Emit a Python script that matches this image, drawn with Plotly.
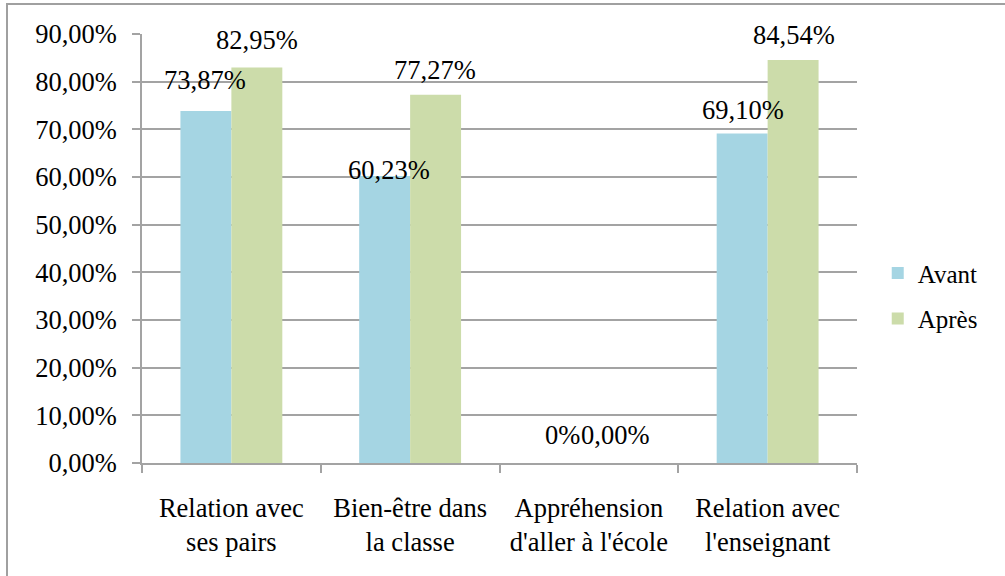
import plotly.graph_objects as go

categories = ["Relation avec<br>ses pairs", "Bien-être dans<br>la classe",
              "Appréhension<br>d'aller à l'école", "Relation avec<br>l'enseignant"]
avant = [73.87, 60.23, 0.0, 69.10]
apres = [82.95, 77.27, 0.0, 84.54]
avant_labels = ["73,87%", "60,23%", "0%", "69,10%"]
apres_labels = ["82,95%", "77,27%", "0,00%", "84,54%"]
y_ticks = [0, 10, 20, 30, 40, 50, 60, 70, 80, 90]
y_ticktext = ["0,00%", "10,00%", "20,00%", "30,00%", "40,00%", "50,00%",
              "60,00%", "70,00%", "80,00%", "90,00%"]

# label placement (style only)
avant_yshift = [31, 6, 28, 24]
apres_yshift = [28, 25, 28, 25]
avant_xshift = [-26, -21, -26, -25]
apres_xshift = [26, 25, 26, 26]

FONT = "Liberation Serif"
FS = 26.5
C_AVANT = "#a5d5e3"
C_APRES = "#ccdcaa"
GRID = "#a3a3a3"

W, H = 1005, 576
L, T, R, B = 142, 34, 148, 113
PW = W - L - R
PH = H - T - B

fig = go.Figure()
fig.add_trace(go.Bar(name="Avant", x=categories, y=avant, marker_color=C_AVANT,
                     marker_line_width=0, legendgroup="a"))
fig.add_trace(go.Bar(name="Après", x=categories, y=apres, marker_color=C_APRES,
                     marker_line_width=0, legendgroup="b"))

annotations = []
for i, c in enumerate(categories):
    annotations.append(dict(x=c, y=avant[i], text=avant_labels[i], showarrow=False,
                            xshift=avant_xshift[i], yshift=avant_yshift[i],
                            yanchor="middle", xanchor="center",
                            font=dict(family=FONT, size=FS, color="black")))
    annotations.append(dict(x=c, y=apres[i], text=apres_labels[i], showarrow=False,
                            xshift=apres_xshift[i], yshift=apres_yshift[i],
                            yanchor="middle", xanchor="center",
                            font=dict(family=FONT, size=FS, color="black")))

fig.update_layout(
    width=W, height=H,
    margin=dict(l=L, r=R, t=T, b=B, autoexpand=False),
    paper_bgcolor="white", plot_bgcolor="white",
    font=dict(family=FONT, size=FS, color="black"),
    barmode="group", bargap=0.43, bargroupgap=0,
    annotations=annotations,
    legend=dict(x=1.029, y=0.39, xanchor="left", yanchor="middle",
                font=dict(family=FONT, size=25, color="black"),
                tracegroupgap=10, bgcolor="rgba(0,0,0,0)"),
    shapes=[dict(type="rect", xref="paper", yref="paper",
                 x0=(7 - L) / PW, x1=(1012 - L) / PW,
                 y0=(463 - 585) / PH, y1=(463 - 4) / PH,
                 line=dict(color="#a0a0a0", width=2), fillcolor="rgba(0,0,0,0)",
                 layer="below")],
)
fig.update_yaxes(range=[0, 90], tickvals=y_ticks, ticktext=y_ticktext,
                 showgrid=True, gridcolor=GRID, gridwidth=1.5,
                 showline=True, linecolor=GRID, linewidth=1.5,
                 ticks="outside", ticklen=8, tickcolor=GRID, tickwidth=1.5,
                 zeroline=False, ticklabelstandoff=10,
                 tickfont=dict(family=FONT, size=FS, color="black"))
fig.update_xaxes(showline=True, linecolor=GRID, linewidth=1.5,
                 ticks="outside", tickson="boundaries", ticklen=8,
                 tickcolor=GRID, tickwidth=1.5, showgrid=False,
                 ticklabelstandoff=20,
                 tickfont=dict(family=FONT, size=FS, color="black"))

fig.write_html("out.html",
               config={"displayModeBar": False},
               post_script="document.body.style.margin='0px';"
                           "document.body.style.overflow='hidden';")
